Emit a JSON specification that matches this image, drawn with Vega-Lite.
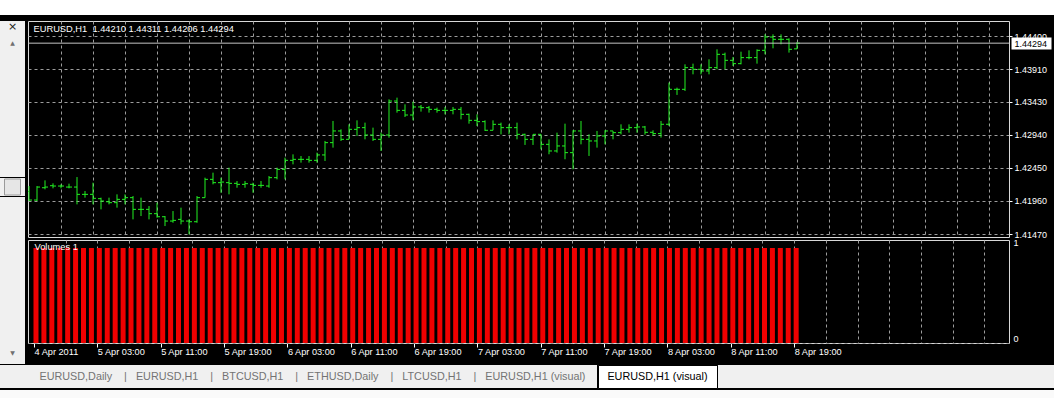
{
  "$schema": "https://vega.github.io/schema/vega-lite/v6.json",
  "background": "#000000",
  "padding": 0,
  "config": {
    "font": "Liberation Sans",
    "axis": {"labelFont": "Liberation Sans", "titleFont": "Liberation Sans"},
    "text": {"font": "Liberation Sans"}
  },
  "datasets": {
    "eurusd": [
      {"t":"2011-04-04T19:00Z","o":1.42100,"h":1.42180,"l":1.41958,"c":1.41973,"v":1},
      {"t":"2011-04-04T20:00Z","o":1.41973,"h":1.42180,"l":1.41958,"c":1.42165,"v":1},
      {"t":"2011-04-04T21:00Z","o":1.42155,"h":1.42264,"l":1.42131,"c":1.42165,"v":1},
      {"t":"2011-04-04T22:00Z","o":1.42185,"h":1.42220,"l":1.42146,"c":1.42180,"v":1},
      {"t":"2011-04-04T23:00Z","o":1.42180,"h":1.42205,"l":1.42146,"c":1.42180,"v":1},
      {"t":"2011-04-05T00:00Z","o":1.42165,"h":1.42215,"l":1.42146,"c":1.42165,"v":1},
      {"t":"2011-04-05T01:00Z","o":1.42165,"h":1.42313,"l":1.41909,"c":1.42057,"v":1},
      {"t":"2011-04-05T02:00Z","o":1.42057,"h":1.42106,"l":1.42008,"c":1.42057,"v":1},
      {"t":"2011-04-05T03:00Z","o":1.42057,"h":1.42230,"l":1.41909,"c":1.41998,"v":1},
      {"t":"2011-04-05T04:00Z","o":1.41993,"h":1.42008,"l":1.41835,"c":1.41958,"v":1},
      {"t":"2011-04-05T05:00Z","o":1.41948,"h":1.42008,"l":1.41909,"c":1.41934,"v":1},
      {"t":"2011-04-05T06:00Z","o":1.41934,"h":1.42057,"l":1.41860,"c":1.41983,"v":1},
      {"t":"2011-04-05T07:00Z","o":1.41983,"h":1.42057,"l":1.41909,"c":1.42008,"v":1},
      {"t":"2011-04-05T08:00Z","o":1.42008,"h":1.42032,"l":1.41687,"c":1.41835,"v":1},
      {"t":"2011-04-05T09:00Z","o":1.41835,"h":1.42008,"l":1.41736,"c":1.41835,"v":1},
      {"t":"2011-04-05T10:00Z","o":1.41835,"h":1.41884,"l":1.41687,"c":1.41771,"v":1},
      {"t":"2011-04-05T11:00Z","o":1.41771,"h":1.41934,"l":1.41712,"c":1.41726,"v":1},
      {"t":"2011-04-05T12:00Z","o":1.41726,"h":1.41736,"l":1.41588,"c":1.41662,"v":1},
      {"t":"2011-04-05T13:00Z","o":1.41662,"h":1.41810,"l":1.41637,"c":1.41672,"v":1},
      {"t":"2011-04-05T14:00Z","o":1.41687,"h":1.41860,"l":1.41613,"c":1.41662,"v":1},
      {"t":"2011-04-05T15:00Z","o":1.41662,"h":1.41687,"l":1.41465,"c":1.41652,"v":1},
      {"t":"2011-04-05T16:00Z","o":1.41652,"h":1.42032,"l":1.41637,"c":1.42008,"v":1},
      {"t":"2011-04-05T17:00Z","o":1.42008,"h":1.42304,"l":1.42008,"c":1.42279,"v":1},
      {"t":"2011-04-05T18:00Z","o":1.42279,"h":1.42378,"l":1.42205,"c":1.42230,"v":1},
      {"t":"2011-04-05T19:00Z","o":1.42230,"h":1.42304,"l":1.42081,"c":1.42239,"v":1},
      {"t":"2011-04-05T20:00Z","o":1.42230,"h":1.42452,"l":1.42057,"c":1.42220,"v":1},
      {"t":"2011-04-05T21:00Z","o":1.42220,"h":1.42254,"l":1.42155,"c":1.42205,"v":1},
      {"t":"2011-04-05T22:00Z","o":1.42205,"h":1.42254,"l":1.42155,"c":1.42215,"v":1},
      {"t":"2011-04-05T23:00Z","o":1.42205,"h":1.42230,"l":1.42081,"c":1.42190,"v":1},
      {"t":"2011-04-06T00:00Z","o":1.42190,"h":1.42254,"l":1.42155,"c":1.42190,"v":1},
      {"t":"2011-04-06T01:00Z","o":1.42180,"h":1.42328,"l":1.42155,"c":1.42304,"v":1},
      {"t":"2011-04-06T02:00Z","o":1.42304,"h":1.42452,"l":1.42279,"c":1.42427,"v":1},
      {"t":"2011-04-06T03:00Z","o":1.42427,"h":1.42600,"l":1.42279,"c":1.42560,"v":1},
      {"t":"2011-04-06T04:00Z","o":1.42560,"h":1.42649,"l":1.42501,"c":1.42575,"v":1},
      {"t":"2011-04-06T05:00Z","o":1.42575,"h":1.42624,"l":1.42526,"c":1.42575,"v":1},
      {"t":"2011-04-06T06:00Z","o":1.42575,"h":1.42624,"l":1.42526,"c":1.42560,"v":1},
      {"t":"2011-04-06T07:00Z","o":1.42560,"h":1.42674,"l":1.42526,"c":1.42640,"v":1},
      {"t":"2011-04-06T08:00Z","o":1.42640,"h":1.42847,"l":1.42551,"c":1.42822,"v":1},
      {"t":"2011-04-06T09:00Z","o":1.42822,"h":1.43143,"l":1.42748,"c":1.42995,"v":1},
      {"t":"2011-04-06T10:00Z","o":1.42995,"h":1.43019,"l":1.42847,"c":1.42871,"v":1},
      {"t":"2011-04-06T11:00Z","o":1.42871,"h":1.43093,"l":1.42871,"c":1.43019,"v":1},
      {"t":"2011-04-06T12:00Z","o":1.43019,"h":1.43152,"l":1.42921,"c":1.43044,"v":1},
      {"t":"2011-04-06T13:00Z","o":1.43044,"h":1.43118,"l":1.42871,"c":1.42935,"v":1},
      {"t":"2011-04-06T14:00Z","o":1.42935,"h":1.43044,"l":1.42847,"c":1.42871,"v":1},
      {"t":"2011-04-06T15:00Z","o":1.42871,"h":1.42970,"l":1.42699,"c":1.42935,"v":1},
      {"t":"2011-04-06T16:00Z","o":1.42935,"h":1.43463,"l":1.42896,"c":1.43438,"v":1},
      {"t":"2011-04-06T17:00Z","o":1.43438,"h":1.43488,"l":1.43266,"c":1.43300,"v":1},
      {"t":"2011-04-06T18:00Z","o":1.43300,"h":1.43389,"l":1.43202,"c":1.43231,"v":1},
      {"t":"2011-04-06T19:00Z","o":1.43231,"h":1.43428,"l":1.43152,"c":1.43350,"v":1},
      {"t":"2011-04-06T20:00Z","o":1.43350,"h":1.43379,"l":1.43281,"c":1.43340,"v":1},
      {"t":"2011-04-06T21:00Z","o":1.43340,"h":1.43364,"l":1.43266,"c":1.43315,"v":1},
      {"t":"2011-04-06T22:00Z","o":1.43315,"h":1.43340,"l":1.43266,"c":1.43300,"v":1},
      {"t":"2011-04-06T23:00Z","o":1.43300,"h":1.43350,"l":1.43241,"c":1.43300,"v":1},
      {"t":"2011-04-07T00:00Z","o":1.43300,"h":1.43350,"l":1.43241,"c":1.43315,"v":1},
      {"t":"2011-04-07T01:00Z","o":1.43315,"h":1.43350,"l":1.43167,"c":1.43241,"v":1},
      {"t":"2011-04-07T02:00Z","o":1.43241,"h":1.43251,"l":1.43103,"c":1.43152,"v":1},
      {"t":"2011-04-07T03:00Z","o":1.43152,"h":1.43241,"l":1.43069,"c":1.43133,"v":1},
      {"t":"2011-04-07T04:00Z","o":1.43133,"h":1.43152,"l":1.42995,"c":1.43005,"v":1},
      {"t":"2011-04-07T05:00Z","o":1.43005,"h":1.43152,"l":1.43005,"c":1.43093,"v":1},
      {"t":"2011-04-07T06:00Z","o":1.43093,"h":1.43118,"l":1.42945,"c":1.43044,"v":1},
      {"t":"2011-04-07T07:00Z","o":1.43044,"h":1.43093,"l":1.42945,"c":1.43044,"v":1},
      {"t":"2011-04-07T08:00Z","o":1.43044,"h":1.43118,"l":1.42871,"c":1.42945,"v":1},
      {"t":"2011-04-07T09:00Z","o":1.42945,"h":1.42955,"l":1.42788,"c":1.42871,"v":1},
      {"t":"2011-04-07T10:00Z","o":1.42871,"h":1.42945,"l":1.42788,"c":1.42945,"v":1},
      {"t":"2011-04-07T11:00Z","o":1.42945,"h":1.42945,"l":1.42723,"c":1.42797,"v":1},
      {"t":"2011-04-07T12:00Z","o":1.42797,"h":1.42871,"l":1.42650,"c":1.42699,"v":1},
      {"t":"2011-04-07T13:00Z","o":1.42699,"h":1.42970,"l":1.42674,"c":1.42773,"v":1},
      {"t":"2011-04-07T14:00Z","o":1.42773,"h":1.43103,"l":1.42576,"c":1.42674,"v":1},
      {"t":"2011-04-07T15:00Z","o":1.42674,"h":1.43005,"l":1.42428,"c":1.42995,"v":1},
      {"t":"2011-04-07T16:00Z","o":1.42995,"h":1.43143,"l":1.42797,"c":1.42871,"v":1},
      {"t":"2011-04-07T17:00Z","o":1.42871,"h":1.42945,"l":1.42625,"c":1.42847,"v":1},
      {"t":"2011-04-07T18:00Z","o":1.42847,"h":1.42995,"l":1.42748,"c":1.42921,"v":1},
      {"t":"2011-04-07T19:00Z","o":1.42921,"h":1.43005,"l":1.42797,"c":1.42995,"v":1},
      {"t":"2011-04-07T20:00Z","o":1.42995,"h":1.42995,"l":1.42871,"c":1.42970,"v":1},
      {"t":"2011-04-07T21:00Z","o":1.42970,"h":1.43093,"l":1.42945,"c":1.43019,"v":1},
      {"t":"2011-04-07T22:00Z","o":1.43019,"h":1.43093,"l":1.42970,"c":1.43044,"v":1},
      {"t":"2011-04-07T23:00Z","o":1.43044,"h":1.43103,"l":1.42970,"c":1.43054,"v":1},
      {"t":"2011-04-08T00:00Z","o":1.43054,"h":1.43069,"l":1.42940,"c":1.42975,"v":1},
      {"t":"2011-04-08T01:00Z","o":1.42975,"h":1.43005,"l":1.42921,"c":1.42956,"v":1},
      {"t":"2011-04-08T02:00Z","o":1.42956,"h":1.43143,"l":1.42897,"c":1.43094,"v":1},
      {"t":"2011-04-08T03:00Z","o":1.43094,"h":1.43710,"l":1.43069,"c":1.43611,"v":1},
      {"t":"2011-04-08T04:00Z","o":1.43611,"h":1.43636,"l":1.43528,"c":1.43611,"v":1},
      {"t":"2011-04-08T05:00Z","o":1.43611,"h":1.43981,"l":1.43587,"c":1.43932,"v":1},
      {"t":"2011-04-08T06:00Z","o":1.43932,"h":1.43991,"l":1.43833,"c":1.43907,"v":1},
      {"t":"2011-04-08T07:00Z","o":1.43907,"h":1.43981,"l":1.43833,"c":1.43883,"v":1},
      {"t":"2011-04-08T08:00Z","o":1.43883,"h":1.44055,"l":1.43833,"c":1.43932,"v":1},
      {"t":"2011-04-08T09:00Z","o":1.43932,"h":1.44203,"l":1.43907,"c":1.44129,"v":1},
      {"t":"2011-04-08T10:00Z","o":1.44129,"h":1.44154,"l":1.43907,"c":1.44040,"v":1},
      {"t":"2011-04-08T11:00Z","o":1.44040,"h":1.44090,"l":1.43956,"c":1.43991,"v":1},
      {"t":"2011-04-08T12:00Z","o":1.43991,"h":1.44168,"l":1.43981,"c":1.44080,"v":1},
      {"t":"2011-04-08T13:00Z","o":1.44080,"h":1.44188,"l":1.44055,"c":1.44080,"v":1},
      {"t":"2011-04-08T14:00Z","o":1.44080,"h":1.44203,"l":1.43991,"c":1.44188,"v":1},
      {"t":"2011-04-08T15:00Z","o":1.44188,"h":1.44425,"l":1.44129,"c":1.44385,"v":1},
      {"t":"2011-04-08T16:00Z","o":1.44385,"h":1.44425,"l":1.44218,"c":1.44351,"v":1},
      {"t":"2011-04-08T17:00Z","o":1.44351,"h":1.44425,"l":1.44277,"c":1.44351,"v":1},
      {"t":"2011-04-08T18:00Z","o":1.44351,"h":1.44366,"l":1.44154,"c":1.44203,"v":1},
      {"t":"2011-04-08T19:00Z","o":1.44210,"h":1.44311,"l":1.44206,"c":1.44294,"v":1}
    ]
  },
  "spacing": 0,
  "vconcat": [
    {
      "spacing": 5,
      "vconcat": [
        {
          "width": 1054, "height": 15,
          "data": {"values": [{"k": ""}]},
          "view": {"fill": "#ffffff", "stroke": null},
          "mark": {"type": "text"},
          "encoding": {"text": {"field": "k"}}
        },
        {
          "spacing": 2,
          "hconcat": [
            {
              "spacing": 0,
              "vconcat": [
                {
                  "width": 25, "height": 12,
                  "data": {"values": [{"g": "×"}]},
                  "view": {"fill": "#f0f0f0", "stroke": null},
                  "mark": {"type": "text", "font": "DejaVu Sans", "fontSize": 11, "color": "#1a1a1a"},
                  "encoding": {"text": {"field": "g"}}
                },
                {
                  "width": 25, "height": 20,
                  "data": {"values": [{"g": "▲"}]},
                  "view": {"fill": "#f0f0f0", "stroke": null},
                  "mark": {"type": "text", "font": "DejaVu Sans", "fontSize": 6, "color": "#707070"},
                  "encoding": {"text": {"field": "g"}}
                },
                {
                  "width": 25, "height": 124,
                  "data": {"values": [{"g": ""}]},
                  "view": {"fill": "#f0f0f0", "stroke": null},
                  "mark": {"type": "text"},
                  "encoding": {"text": {"field": "g"}}
                },
                {
                  "width": 25, "height": 18,
                  "data": {"values": [{"g": ""}]},
                  "view": {"fill": "#f0f0f0", "stroke": null},
                  "mark": {"type": "point", "shape": "square", "size": 256, "filled": true, "color": "#e6e6e6", "stroke": "#9a9a9a", "strokeWidth": 1, "opacity": 1}
                },
                {
                  "width": 25, "height": 145,
                  "data": {"values": [{"g": ""}]},
                  "view": {"fill": "#f0f0f0", "stroke": null},
                  "mark": {"type": "text"},
                  "encoding": {"text": {"field": "g"}}
                },
                {
                  "width": 25, "height": 22,
                  "data": {"values": [{"g": "▼"}]},
                  "view": {"fill": "#f0f0f0", "stroke": null},
                  "mark": {"type": "text", "font": "DejaVu Sans", "fontSize": 6, "color": "#707070"},
                  "encoding": {"text": {"field": "g"}}
                }
              ]
            },
            {
              "spacing": -2,
              "vconcat": [
                {
                  "width": 981, "height": 216,
                  "data": {"name": "eurusd"},
                  "view": {"fill": "#000000", "stroke": "#d8d8d8"},
                  "resolve": {"axis": {"y": "independent"}},
                  "layer": [
                    {
                      "mark": {"type": "rule", "color": "#22f022", "strokeWidth": 1, "clip": true},
                      "encoding": {
                        "x": {"field": "t", "type": "temporal", "scale": {"type": "utc", "domain": [1301943150000, 1302384600000], "nice": false},
                          "axis": {"values": [1301958000000,1301972400000,1301986800000,1302001200000,1302015600000,1302030000000,1302044400000,1302058800000,1302073200000,1302087600000,1302102000000,1302116400000,1302130800000,1302145200000,1302159600000,1302174000000,1302188400000,1302202800000,1302217200000,1302231600000,1302246000000,1302260400000,1302274800000,1302289200000,1302303600000,1302318000000,1302332400000,1302346800000,1302361200000,1302375600000],
                            "title": null, "domain": false, "ticks": false, "labels": false, "grid": true, "gridColor": "#9c9c9c", "gridDash": [3, 3], "minExtent": 0, "maxExtent": 0}},
                        "y": {"field": "l", "type": "quantitative", "scale": {"domain": [1.41426, 1.44622], "nice": false, "zero": false},
                          "axis": {"values": [1.4147, 1.4196, 1.4245, 1.4294, 1.4343, 1.4391, 1.444], "format": ".5f", "orient": "right", "domain": false, "grid": true, "gridColor": "#9c9c9c", "gridDash": [3, 3], "ticks": true, "tickSize": 3, "tickColor": "#ffffff", "labelPadding": 2, "labelColor": "#ffffff", "labelFontSize": 9, "labelOverlap": false, "labelFlush": false, "minExtent": 46, "maxExtent": 46,
                            "title": "EURUSD,H1\u00a0\u00a01.44210 1.44311 1.44206 1.44294", "titleX": -976, "titleY": 12, "titleAngle": 0, "titleAlign": "left", "titleBaseline": "bottom", "titleColor": "#ffffff", "titleFontSize": 9.3, "titleFontWeight": "normal"}},
                        "y2": {"field": "h"}
                      }
                    },
                    {
                      "mark": {"type": "rule", "color": "#22f022", "strokeWidth": 1, "xOffset": -3, "clip": true},
                      "encoding": {
                        "x": {"field": "t", "type": "temporal", "scale": {"type": "utc", "domain": [1301943150000, 1302384600000], "nice": false},
                          "axis": {"values": [1301958000000,1301972400000,1301986800000,1302001200000,1302015600000,1302030000000,1302044400000,1302058800000,1302073200000,1302087600000,1302102000000,1302116400000,1302130800000,1302145200000,1302159600000,1302174000000,1302188400000,1302202800000,1302217200000,1302231600000,1302246000000,1302260400000,1302274800000,1302289200000,1302303600000,1302318000000,1302332400000,1302346800000,1302361200000,1302375600000],
                            "title": null, "domain": false, "ticks": false, "labels": false, "grid": true, "gridColor": "#9c9c9c", "gridDash": [3, 3], "minExtent": 0, "maxExtent": 0}},
                        "x2": {"field": "t"},
                        "y": {"field": "o", "type": "quantitative", "scale": {"domain": [1.41426, 1.44622], "nice": false, "zero": false}, "axis": null}
                      }
                    },
                    {
                      "mark": {"type": "rule", "color": "#22f022", "strokeWidth": 1, "x2Offset": 3, "clip": true},
                      "encoding": {
                        "x": {"field": "t", "type": "temporal", "scale": {"type": "utc", "domain": [1301943150000, 1302384600000], "nice": false},
                          "axis": {"values": [1301958000000,1301972400000,1301986800000,1302001200000,1302015600000,1302030000000,1302044400000,1302058800000,1302073200000,1302087600000,1302102000000,1302116400000,1302130800000,1302145200000,1302159600000,1302174000000,1302188400000,1302202800000,1302217200000,1302231600000,1302246000000,1302260400000,1302274800000,1302289200000,1302303600000,1302318000000,1302332400000,1302346800000,1302361200000,1302375600000],
                            "title": null, "domain": false, "ticks": false, "labels": false, "grid": true, "gridColor": "#9c9c9c", "gridDash": [3, 3], "minExtent": 0, "maxExtent": 0}},
                        "x2": {"field": "t"},
                        "y": {"field": "c", "type": "quantitative", "scale": {"domain": [1.41426, 1.44622], "nice": false, "zero": false}, "axis": null}
                      }
                    },
                    {
                      "transform": [{"filter": "time(datum.t) == 1302289200000"}],
                      "mark": {"type": "rule", "color": "#c4c4c4", "strokeWidth": 1, "clip": true},
                      "encoding": {
                        "y": {"field": "c", "type": "quantitative", "scale": {"domain": [1.41426, 1.44622], "nice": false, "zero": false},
                          "axis": {"values": [1.44294], "format": ".5f", "orient": "right", "offset": 2, "title": null, "domain": false, "grid": false, "ticks": true, "tickSize": 40, "tickWidth": 12, "tickColor": "#ffffff", "labelPadding": -37, "labelColor": "#000000", "labelFontSize": 9, "labelOverlap": false, "labelFlush": false, "minExtent": 0, "maxExtent": 46}}
                      }
                    }
                  ]
                },
                {
                  "width": 981, "height": 103,
                  "data": {"name": "eurusd"},
                  "view": {"fill": "#000000", "stroke": "#d8d8d8"},
                  "mark": {"type": "bar", "color": "#f00000", "width": 5, "xOffset": 2, "clip": true},
                  "encoding": {
                    "x": {"field": "t", "type": "temporal", "scale": {"type": "utc", "domain": [1301943150000, 1302384600000], "nice": false},
                      "axis": {"values": [1301943600000,1301958000000,1301972400000,1301986800000,1302001200000,1302015600000,1302030000000,1302044400000,1302058800000,1302073200000,1302087600000,1302102000000,1302116400000,1302130800000,1302145200000,1302159600000,1302174000000,1302188400000,1302202800000,1302217200000,1302231600000,1302246000000,1302260400000,1302274800000,1302289200000,1302303600000,1302318000000,1302332400000,1302346800000,1302361200000,1302375600000],
                        "title": null, "domain": false,
                        "grid": true, "gridColor": "#9c9c9c", "gridDash": [3, 3],
                        "gridOpacity": {"condition": {"test": "time(datum.value) == 1301943600000", "value": 0}, "value": 1},
                        "ticks": true, "tickSize": 4, "tickColor": "#ffffff",
                        "tickOpacity": {"condition": {"test": "utchours(datum.value) % 8 == 3 && time(datum.value) <= 1302289200000", "value": 1}, "value": 0},
                        "labelExpr": "time(datum.value) == 1301943600000 ? '4 Apr 2011' : ((utchours(datum.value) % 8 == 3 && time(datum.value) <= 1302289200000) ? utcFormat(datum.value, '%-d %b %H:%M') : '')",
                        "labelAlign": "left", "labelBaseline": "top", "labelPadding": 0, "labelOffset": 0,
                        "labelColor": "#ffffff", "labelFontSize": 9.2, "labelOverlap": false, "labelFlush": false,
                        "minExtent": 16, "maxExtent": 16}},
                    "y": {"field": "v", "type": "quantitative", "scale": {"domain": [0, 1.0842], "nice": false, "zero": true},
                      "axis": {"values": [0, 1], "format": "d", "orient": "right", "domain": false, "zindex": 1,
                        "grid": true, "gridColor": "#9c9c9c", "gridDash": [3, 3],
                        "gridOpacity": {"condition": {"test": "datum.value == 0", "value": 1}, "value": 0},
                        "ticks": true, "tickSize": 0, "labelPadding": 4, "labelBaseline": "bottom",
                        "labelColor": "#ffffff", "labelFontSize": 9, "labelOverlap": false, "labelFlush": false,
                        "minExtent": 46, "maxExtent": 46,
                        "title": "Volumes 1", "titleX": -975, "titleY": 11, "titleAngle": 0, "titleAlign": "left", "titleBaseline": "bottom", "titleColor": "#ffffff", "titleFontSize": 9.3, "titleFontWeight": "normal"}}
                  }
                }
              ]
            }
          ]
        }
      ]
    },
    {
      "spacing": 0,
      "vconcat": [
        {
          "spacing": 0,
          "hconcat": [
            {
              "width": 28, "height": 23,
              "data": {"values": [{"label": ""}]},
              "view": {"fill": "#f0f0f0", "stroke": null},
              "mark": {"type": "text"},
              "encoding": {"text": {"field": "label"}}
            },
            {
              "width": 569, "height": 23,
              "data": {"values": [{"label": "EURUSD,Daily\u00a0\u00a0\u00a0\u00a0|\u00a0\u00a0\u00a0EURUSD,H1\u00a0\u00a0\u00a0\u00a0|\u00a0\u00a0\u00a0BTCUSD,H1\u00a0\u00a0\u00a0\u00a0|\u00a0\u00a0\u00a0ETHUSD,Daily\u00a0\u00a0\u00a0\u00a0|\u00a0\u00a0\u00a0LTCUSD,H1\u00a0\u00a0\u00a0\u00a0|\u00a0\u00a0\u00a0EURUSD,H1 (visual)"}]},
              "view": {"fill": "#f0f0f0", "stroke": null},
              "mark": {"type": "text", "color": "#737373", "fontSize": 10.8, "font": "Liberation Sans"},
              "encoding": {"text": {"field": "label"}}
            },
            {
              "width": 119, "height": 23,
              "data": {"values": [{"label": "EURUSD,H1 (visual)"}]},
              "view": {"fill": "#ffffff", "stroke": "#000000"},
              "mark": {"type": "text", "color": "#000000", "fontSize": 10.8, "font": "Liberation Sans"},
              "encoding": {"text": {"field": "label"}}
            },
            {
              "width": 338, "height": 23,
              "data": {"values": [{"label": ""}]},
              "view": {"fill": "#f0f0f0", "stroke": null},
              "mark": {"type": "text"},
              "encoding": {"text": {"field": "label"}}
            }
          ]
        },
        {
          "width": 1054, "height": 10,
          "data": {"values": [{"label": ""}]},
          "view": {"fill": "#fafafa", "stroke": null},
          "mark": {"type": "text"},
          "encoding": {"text": {"field": "label"}}
        }
      ]
    }
  ]
}
